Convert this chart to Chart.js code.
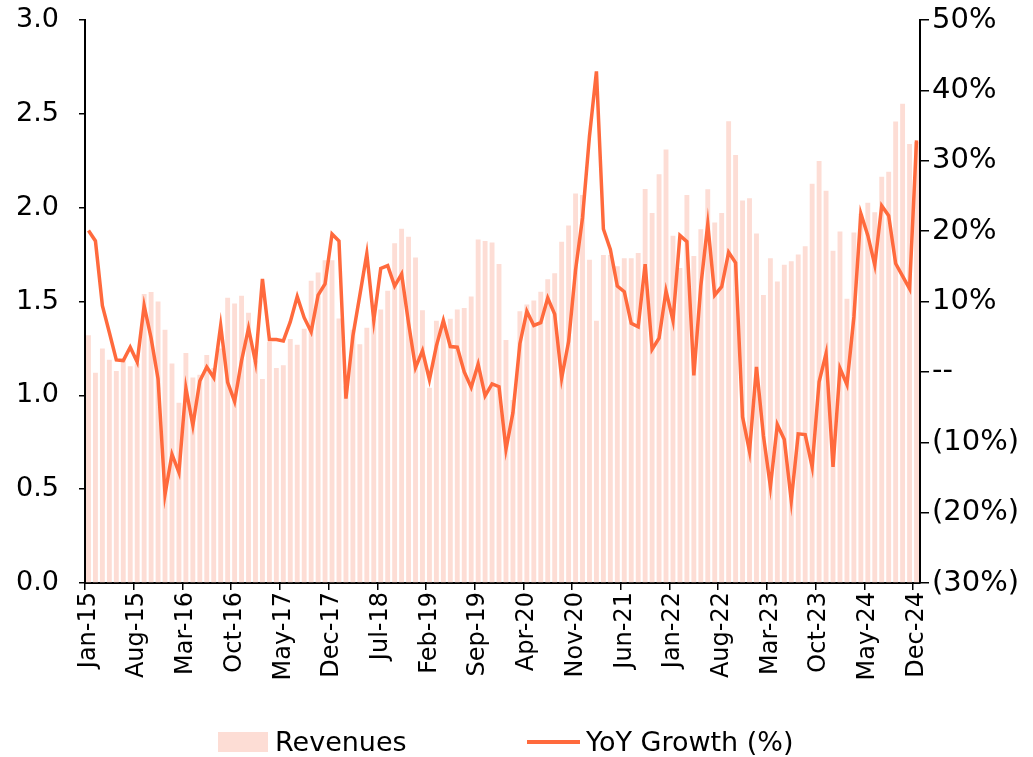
<!DOCTYPE html>
<html>
<head>
<meta charset="utf-8">
<script src="https://cdn.jsdelivr.net/npm/chart.js@4.4.1/dist/chart.umd.min.js"></script>
<style>
    body { margin: 0; background: #fff; }
    #wrap { position: relative; width: 1033px; height: 757px; font-family: 'DejaVu Sans', sans-serif; }
    .lg-box { position: absolute; left: 218px; top: 732px; width: 50px; height: 20px; background: #FDDDD5; }
    .lg-line { position: absolute; left: 527px; top: 740px; width: 53px; height: 4px; background: #FF6A3D; }
    .lg-text { position: absolute; top: 726px; font-size: 27px; line-height: 32px; color: #000; white-space: nowrap; }
</style>
</head>
<body>
<div id="wrap">
    <canvas id="revenueChart" width="1033" height="757"></canvas>
    <div class="lg-box"></div>
    <div class="lg-text" style="left: 275px;">Revenues</div>
    <div class="lg-line"></div>
    <div class="lg-text" style="left: 586px;">YoY Growth (%)</div>
</div>
<script>
const monthNames = ['Jan', 'Feb', 'Mar', 'Apr', 'May', 'Jun', 'Jul', 'Aug', 'Sep', 'Oct', 'Nov', 'Dec'];
const years = ['15', '16', '17', '18', '19', '20', '21', '22', '23', '24'];

// monthly revenues, left axis
const revenues = [
    1.32, 1.12, 1.25, 1.19, 1.13, 1.19, 1.155, 1.17, 1.54, 1.55, 1.50, 1.35,
    1.17, 0.96, 1.225, 1.095, 1.11, 1.215, 1.145, 1.25, 1.52, 1.49, 1.53, 1.44,
    1.185, 1.087, 1.285, 1.145, 1.16, 1.30, 1.27, 1.355, 1.61, 1.655, 1.72, 1.72,
    1.41, 1.05, 1.35, 1.272, 1.36, 1.41, 1.457, 1.557, 1.81, 1.888, 1.845, 1.735,
    1.453, 1.04, 1.398, 1.365, 1.408, 1.457, 1.465, 1.526, 1.83, 1.822, 1.814, 1.70,
    1.295, 0.975, 1.448, 1.484, 1.505, 1.552, 1.618, 1.65, 1.818, 1.905, 2.075, 2.068,
    1.723, 1.398, 1.748, 1.748, 1.688, 1.73, 1.731, 1.758, 2.10, 1.972, 2.178, 2.31,
    1.85, 1.678, 2.068, 1.743, 1.885, 2.098, 1.921, 1.971, 2.46, 2.281, 2.038, 2.05,
    1.863, 1.535, 1.73, 1.607, 1.696, 1.714, 1.751, 1.794, 2.128, 2.249, 2.09, 1.77,
    1.873, 1.515, 1.868, 1.968, 2.026, 1.975, 2.165, 2.191, 2.459, 2.554, 2.339, 2.35
];

// YoY growth in %, right axis
const yoyGrowth = [
    20.1, 18.6, 9.4, 5.6, 1.7, 1.6, 3.5, 1.4, 9.4, 4.8, -1.0, -17.4,
    -11.7, -14.3, -2.3, -7.6, -1.3, 0.7, -0.8, 6.6, -1.5, -4.2, 1.6, 6.2,
    1.4, 13.2, 4.6, 4.6, 4.4, 7.1, 10.7, 7.7, 5.7, 10.9, 12.5, 19.6,
    18.6, -3.8, 5.1, 10.9, 16.8, 7.3, 14.7, 15.1, 12.2, 13.9, 6.9, 0.6,
    3.0, -1.1, 3.7, 7.3, 3.6, 3.5, 0.0, -2.2, 1.1, -3.4, -1.7, -2.1,
    -11.0, -5.8, 4.0, 8.6, 6.6, 7.0, 10.5, 8.2, -0.9, 4.3, 14.5, 21.9,
    33.5, 42.7, 20.3, 17.4, 12.2, 11.4, 6.9, 6.4, 15.3, 3.2, 4.8, 11.5,
    7.3, 19.4, 18.5, -0.5, 12.2, 21.0, 10.9, 12.1, 17.0, 15.5, -6.4, -11.3,
    0.7, -9.1, -16.3, -7.5, -9.6, -18.3, -8.8, -8.9, -13.5, -1.4, 2.6, -13.5,
    0.5, -1.8, 7.8, 22.5, 19.4, 15.2, 23.6, 22.2, 15.4, 13.6, 11.8, 32.9
];

const months = [];
years.forEach(y => monthNames.forEach(m => months.push(m + '-' + y)));

const labelStep = 7;

function pctLabel(v) {
    if (v === 0) return '--';
    return v < 0 ? '(' + (-v) + '%)' : v + '%';
}

// pin the plot box: no extra room for the end labels
function fixVertical(s, w) {
    s.width = w;
    s.paddingTop = 0;
    s.paddingBottom = 0;
}

Chart.defaults.font.family = "'DejaVu Sans', sans-serif";
Chart.defaults.color = '#000';

const ctx = document.getElementById('revenueChart').getContext('2d');
new Chart(ctx, {
    data: {
        labels: months,
        datasets: [
            {
                type: 'line',
                label: 'YoY Growth (%)',
                data: yoyGrowth,
                yAxisID: 'y1',
                borderColor: '#FF6A3D',
                borderWidth: 3.5,
                pointRadius: 0,
                tension: 0
            },
            {
                type: 'bar',
                label: 'Revenues',
                data: revenues,
                yAxisID: 'y',
                backgroundColor: '#FDDDD5',
                borderWidth: 0,
                barPercentage: 0.7,
                categoryPercentage: 1.0
            }
        ]
    },
    options: {
        responsive: false,
        animation: false,
        devicePixelRatio: 1,
        layout: { padding: { top: 20, left: 0, right: 0, bottom: 0 } },
        plugins: {
            legend: { display: false },
            tooltip: { enabled: false }
        },
        scales: {
            x: {
                offset: true,
                grid: {
                    offset: true,
                    drawOnChartArea: false,
                    drawTicks: true,
                    tickLength: 7,
                    lineWidth: 1.5,
                    color: c => (c.index % labelStep === 0 ? '#000' : 'rgba(0,0,0,0)')
                },
                border: { color: '#000', width: 2 },
                ticks: {
                    autoSkip: false,
                    maxRotation: 90,
                    minRotation: 90,
                    padding: 2,
                    font: { size: 24 },
                    callback: (v, i) => (i % labelStep === 0 ? months[i] : '')
                },
                afterFit: s => { s.height = 174; s.paddingLeft = 0; s.paddingRight = 0; }
            },
            y: {
                position: 'left',
                min: 0,
                max: 3,
                grid: { drawOnChartArea: false, tickLength: 6, lineWidth: 1.5, color: '#000' },
                border: { color: '#000', width: 2 },
                ticks: {
                    stepSize: 0.5,
                    padding: 20,
                    font: { size: 27 },
                    callback: v => v.toFixed(1)
                },
                afterFit: s => fixVertical(s, 85)
            },
            y1: {
                position: 'right',
                min: -30,
                max: 50,
                grid: { drawOnChartArea: false, tickLength: 9, lineWidth: 1.5, color: '#000' },
                border: { color: '#000', width: 2 },
                ticks: {
                    stepSize: 10,
                    padding: 3,
                    font: { size: 29 },
                    callback: v => pctLabel(v)
                },
                afterFit: s => fixVertical(s, 113)
            }
        }
    }
});
</script>
</body>
</html>
